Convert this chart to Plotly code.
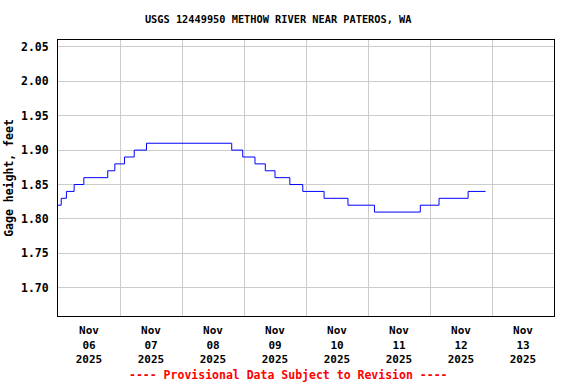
import plotly.graph_objects as go

# Step change times (15-minute data) and gage height values, feet
times = [
    "2025-11-06 00:00", "2025-11-06 01:15", "2025-11-06 03:15", "2025-11-06 06:15",
    "2025-11-06 10:00", "2025-11-06 19:15", "2025-11-06 22:00", "2025-11-07 01:45",
    "2025-11-07 05:30", "2025-11-07 10:15", "2025-11-08 19:15", "2025-11-08 23:30",
    "2025-11-09 04:15", "2025-11-09 08:15", "2025-11-09 12:00", "2025-11-09 17:45",
    "2025-11-09 22:45", "2025-11-10 07:00", "2025-11-10 16:15", "2025-11-11 02:30",
    "2025-11-11 20:15", "2025-11-12 03:30", "2025-11-12 14:45", "2025-11-12 21:30",
]
heights = [
    1.82, 1.83, 1.84, 1.85,
    1.86, 1.87, 1.88, 1.89,
    1.90, 1.91, 1.90, 1.89,
    1.88, 1.87, 1.86, 1.85,
    1.84, 1.83, 1.82, 1.81,
    1.82, 1.83, 1.84, 1.84,
]

label_days = ["2025-11-06", "2025-11-07", "2025-11-08", "2025-11-09",
              "2025-11-10", "2025-11-11", "2025-11-12", "2025-11-13"]
label_text = ["Nov<br>06<br>2025", "Nov<br>07<br>2025", "Nov<br>08<br>2025", "Nov<br>09<br>2025",
              "Nov<br>10<br>2025", "Nov<br>11<br>2025", "Nov<br>12<br>2025", "Nov<br>13<br>2025"]
y_ticks = [1.70, 1.75, 1.80, 1.85, 1.90, 1.95, 2.00, 2.05]

FONT = "DejaVu Sans Mono"

fig = go.Figure()
fig.add_trace(go.Scatter(
    x=times, y=heights, mode="lines", line=dict(color="#0000FF", width=1, shape="hv"),
    hoverinfo="skip", showlegend=False,
))

fig.update_layout(
    width=576, height=384,
    margin=dict(l=58, r=22, t=40, b=68, autoexpand=False),
    paper_bgcolor="white", plot_bgcolor="white",
    font=dict(family=FONT, size=11.5, color="black"),
    title=dict(text="<b>USGS 12449950 METHOW RIVER NEAR PATEROS, WA</b>",
               x=0.483, xanchor="center", y=0.95, yanchor="middle",
               font=dict(family=FONT, size=10.3, color="black")),
    xaxis=dict(
        type="date", automargin=False,
        range=["2025-11-06 00:00", "2025-11-14 00:00"],
        tickvals=[d + " 12:00" for d in label_days],
        ticktext=["<b>" + t.replace("<br>", "</b><br><b>") + "</b>" for t in label_text],
        showgrid=False, ticks="", zeroline=False,
        showline=True, linecolor="black", linewidth=1, mirror=True,
        minor=dict(dtick=86400000, tick0="2025-11-06", showgrid=True,
                   gridcolor="#cccccc", gridwidth=1, ticks=""),
        tickfont=dict(family=FONT, size=11, color="black"),
        ticklabelstandoff=4,
    ),
    yaxis=dict(
        automargin=False,
        range=[1.659, 2.060],
        tickvals=y_ticks,
        ticktext=["<b>%.2f</b>" % v for v in y_ticks],
        showgrid=True, gridcolor="#cccccc", gridwidth=1,
        ticks="", zeroline=False,
        showline=True, linecolor="black", linewidth=1, mirror=True,
        tickfont=dict(family=FONT, size=11.5, color="black"),
        ticklabelstandoff=6,
        title=dict(text="<b>Gage height, feet</b>", standoff=4,
                   font=dict(family=FONT, size=11.5, color="black")),
    ),
    annotations=[dict(
        text="<b>---- Provisional Data Subject to Revision ----</b>",
        xref="paper", yref="paper", x=0.464, y=-0.215, xanchor="center", yanchor="middle",
        showarrow=False, font=dict(family=FONT, size=11.5, color="#FF0000"),
    )],
)

fig.write_html("out.html", config={"displayModeBar": False},
               post_script="document.body.style.margin='0';document.body.style.overflow='hidden';")
